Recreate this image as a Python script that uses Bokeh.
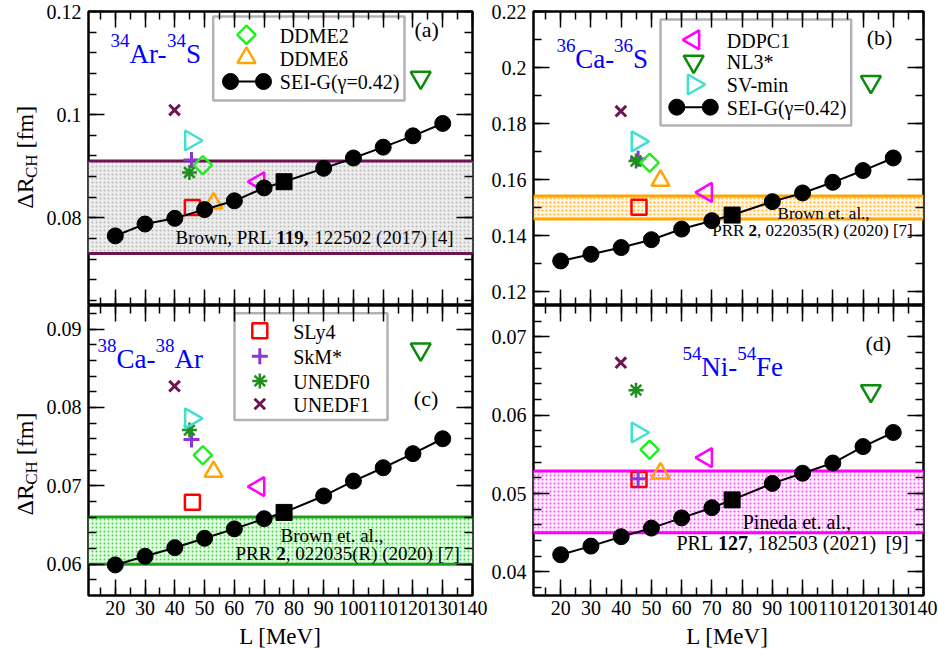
import math
import numpy as np
from bokeh.plotting import figure
from bokeh.models import (Range1d, LinearAxis, SingleIntervalTicker, CustomJSTickFormatter,
                          BoxAnnotation, Span, Label)
from bokeh.layouts import row, column
from bokeh.embed import file_html
from bokeh.resources import INLINE

FONT = "Liberation Serif"

# ---------------- data ----------------
L_sei = [20, 30, 40, 50, 60, 70, 90, 100, 110, 120, 130]
sei_a = [0.0765, 0.0788, 0.0799, 0.0816, 0.0833, 0.0858, 0.0896, 0.0916, 0.0937, 0.0959, 0.0983]
sei_b = [0.1309, 0.1333, 0.1357, 0.1385, 0.1423, 0.1453, 0.1521, 0.1552, 0.1590, 0.1632, 0.1677]
sei_c = [0.0599, 0.0610, 0.0621, 0.0633, 0.0645, 0.0658, 0.0687, 0.0706, 0.0723, 0.0741, 0.0760]
sei_d = [0.0422, 0.0433, 0.0445, 0.0456, 0.0469, 0.0482, 0.0513, 0.0526, 0.0539, 0.0560, 0.0578]

L_g042 = 76.7
g042_a = 0.0870
g042_b = 0.1473
g042_c = 0.0666
g042_d = 0.0492

models = ["SLy4", "SkM*", "UNEDF0", "UNEDF1", "DDME2", "DDMEδ", "DDPC1", "NL3*", "SV-min"]
L_models = [45.9, 45.6, 44.9, 39.9, 49.4, 53.0, 68.2, 122.6, 45.4]
mod_a = [0.0820, 0.0912, 0.0888, 0.1009, 0.0902, 0.0828, 0.0870, 0.1072, 0.0950]
mod_b = [0.1501, 0.1674, 0.1666, 0.1844, 0.1660, 0.1596, 0.1554, 0.1949, 0.1736]
mod_c = [0.0679, 0.0759, 0.0771, 0.0827, 0.0739, 0.0718, 0.0699, 0.0874, 0.0786]
mod_d = [0.0518, 0.0519, 0.0632, 0.0667, 0.0556, 0.0526, 0.0546, 0.0631, 0.0578]

band_a = [0.0731, 0.0910]
band_b = [0.1459, 0.1541]
band_c = [0.0600, 0.0660]
band_d = [0.0450, 0.0529]

sei_label = "SEI-G(γ=0.42)"
x_label = "L [MeV]"

X0, X1 = 11.0, 140.0

STY = {
    "SLy4":   dict(marker="square", color="#FF0000", size=15, angle=0.0, lw=2.5),
    "SkM*":   dict(marker="cross", color="#8E35D9", size=16, angle=0.0, lw=3),
    "UNEDF0": dict(marker="asterisk", color="#1F8F1F", size=15, angle=0.0, lw=2.5),
    "UNEDF1": dict(marker="x", color="#6E1450", size=15, angle=0.0, lw=3),
    "DDME2":  dict(marker="square", color="#22EE22", size=13, angle=math.pi / 4, lw=2.5),
    "DDMEδ":  dict(marker="triangle", color="#FFA500", size=18, angle=0.0, lw=2.5),
    "DDPC1":  dict(marker="triangle", color="#FF00FF", size=19, angle=math.pi / 2, lw=2.5),
    "NL3*":   dict(marker="inverted_triangle", color="#0C8C0C", size=20, angle=0.0, lw=2.5),
    "SV-min": dict(marker="triangle", color="#40E0D0", size=20, angle=-math.pi / 2, lw=2.5),
}

W = {' ': 250, '!': 333, '(': 333, ')': 333, ',': 250, '-': 333, '.': 250, '*': 500, '=': 564,
     '[': 333, ']': 333, 'A': 722, 'B': 667, 'C': 667, 'D': 722, 'E': 611, 'F': 556, 'G': 722,
     'H': 722, 'I': 333, 'L': 611, 'M': 889, 'N': 722, 'P': 556, 'R': 667, 'S': 556, 'V': 722,
     'a': 444, 'b': 500, 'd': 500, 'e': 444, 'f': 333, 'i': 278, 'l': 278, 'm': 778, 'n': 500,
     'o': 500, 'r': 333, 't': 278, 'w': 722, 'Δ': 612, 'γ': 500, 'δ': 500}

K_BASE = 0.3   # empirical baseline correction (fraction of font size)


def tw(s, size):
    return sum(W.get(c, 500) for c in s) / 1000.0 * size


class Pan:
    """Maps page pixels to data coordinates of one figure."""
    def __init__(self, p, xr, yr, frame):
        self.p = p
        self.x0, self.x1 = xr
        self.y0, self.y1 = yr
        self.frame = frame

    def rx(self, xpx):
        L, T, R, B = self.frame
        return self.x0 + (xpx - L) / (R - L) * (self.x1 - self.x0)

    def ry(self, ypx):
        L, T, R, B = self.frame
        return self.y1 - (ypx - T) / (B - T) * (self.y1 - self.y0)


def text(pan, xpx, ypx, s, size, color="black", bold=False, align="left", angle=0.0):
    if angle == 0.0:
        ypx = ypx - K_BASE * size
    else:
        xpx = xpx - K_BASE * size
    pan.p.add_layout(Label(x=pan.rx(xpx), y=pan.ry(ypx), text=s, text_font=FONT,
                           text_font_size=f"{size}px", text_color=color,
                           text_font_style="bold" if bold else "normal",
                           text_align=align, text_baseline="alphabetic", angle=angle))


def rich(pan, xpx, ypx, pieces, size):
    for s, b in pieces:
        lead = len(s) - len(s.lstrip(" "))
        text(pan, xpx + tw(" " * lead, size), ypx, s.strip(" "), size, bold=b)
        xpx += tw(s, size)


def style_axis(ax, labels, standoff):
    ax.axis_line_color = None
    ax.major_tick_in = 16
    ax.major_tick_out = 0
    ax.minor_tick_in = 8
    ax.minor_tick_out = 0
    ax.major_tick_line_width = 1.5
    ax.minor_tick_line_width = 1.5
    ax.major_tick_line_color = "black"
    ax.minor_tick_line_color = "black"
    if labels:
        ax.major_label_text_font = FONT
        ax.major_label_text_font_size = "20px"
        ax.major_label_text_color = "black"
        ax.major_label_standoff = standoff
    else:
        ax.major_label_text_color = None
        ax.major_label_standoff = 0


def make_fig(w, h, yr, bl, br, bt, bb, yint, ynm, xlabels):
    p = figure(width=w, height=h, x_range=Range1d(X0, X1), y_range=Range1d(*yr),
               output_backend="svg", toolbar_location=None,
               x_axis_location=None, y_axis_location=None,
               min_border_left=bl, min_border_right=br, min_border_top=bt, min_border_bottom=bb,
               background_fill_color="white", border_fill_color="white",
               outline_line_color="black", outline_line_width=2.5)
    p.grid.visible = False
    for loc in ("below", "above"):
        ax = LinearAxis(ticker=SingleIntervalTicker(interval=10, num_minor_ticks=2))
        style_axis(ax, loc == "below" and xlabels, 5)
        p.add_layout(ax, loc)
    for loc in ("left", "right"):
        ax = LinearAxis(ticker=SingleIntervalTicker(interval=yint, num_minor_ticks=ynm),
                        formatter=CustomJSTickFormatter(code="return String(parseFloat(tick.toFixed(4)));"))
        style_axis(ax, loc == "left", 7)
        p.add_layout(ax, loc)
    return p


def make_strip(w, h):
    p = figure(width=w, height=h, x_range=Range1d(0, w), y_range=Range1d(0, h),
               output_backend="svg", toolbar_location=None,
               x_axis_location=None, y_axis_location=None, min_border=0,
               outline_line_color=None, background_fill_color="white", border_fill_color="white")
    p.grid.visible = False
    return p


def draw_band(pan, band, lc, fc, hc):
    p = pan.p
    p.add_layout(BoxAnnotation(bottom=band[0], top=band[1], fill_color=fc, fill_alpha=1.0,
                               hatch_pattern="dot", hatch_color=hc, hatch_scale=4,
                               line_color=None, level="underlay"))
    for v in band:
        p.add_layout(Span(location=v, dimension="width", line_color=lc, line_width=3, level="underlay"))


def draw_model(p, name, x, y):
    s = STY[name]
    p.scatter(x=x, y=y, marker=s["marker"], size=s["size"], angle=s["angle"],
              line_color=s["color"], fill_color=None, line_width=s["lw"])


def draw_data(pan, vals, sei, g):
    p = pan.p
    for i, name in enumerate(models):
        draw_model(p, name, [L_models[i]], [vals[i]])
    xs = np.array(L_sei + [L_g042])
    ys = np.array(sei + [g])
    o = np.argsort(xs)
    p.line(x=xs[o], y=ys[o], line_color="black", line_width=2)
    p.scatter(x=L_sei, y=sei, marker="circle", size=16, fill_color="black", line_color="black")
    p.scatter(x=[L_g042], y=[g], marker="square", size=16, fill_color="black", line_color="black")


def draw_legend(pan, box, entries, mx, tx, lx0, lx1):
    p = pan.p
    L, T, R, B = box
    p.add_layout(BoxAnnotation(left=pan.rx(L), right=pan.rx(R), top=pan.ry(T), bottom=pan.ry(B),
                               fill_color="white", fill_alpha=1.0, line_color="black",
                               line_width=2.5, level="underlay"))
    for name, ypx in entries:
        yy = pan.ry(ypx)
        if name == "SEI":
            p.line(x=[pan.rx(lx0), pan.rx(lx1)], y=[yy, yy], line_color="black", line_width=2)
            p.scatter(x=[pan.rx(lx0), pan.rx(lx1)], y=[yy, yy], marker="circle", size=16,
                      fill_color="black", line_color="black")
            lab = sei_label
        else:
            draw_model(p, name, [pan.rx(mx)], [yy])
            lab = name
        text(pan, tx, ypx + 6.8, lab, 20)


def nuclide(pan, xpx, ypx, pieces):
    for s, sup in pieces:
        size = 19 if sup else 27
        text(pan, xpx, ypx - 15.7 if sup else ypx, s, size, color="#0000FF")
        xpx += tw(s, size)


# ---------------- layout geometry (page pixels) ----------------
ya = (0.063, 0.12001)
yb = (0.115, 0.22001)
yc = (0.056, 0.093)
yd = (0.037, 0.074)

STRIP_W = 42
TOP_H = 305
BOT_H = 317
XSTRIP_H = 26
FULL_W = STRIP_W + 446 + 449
BOT_FRAME_B = TOP_H + BOT_H - 27

fa = make_fig(446, TOP_H, ya, 46, 16, 11, 0, 0.02, 5, False)
fb = make_fig(449, TOP_H, yb, 43, 14, 11, 0, 0.02, 2, False)
fc = make_fig(446, BOT_H, yc, 46, 16, 0, 27, 0.01, 5, True)
fd = make_fig(449, BOT_H, yd, 43, 14, 0, 27, 0.01, 5, True)

pa = Pan(fa, (X0, X1), ya, (88, 11, 472, 305))
pb = Pan(fb, (X0, X1), yb, (531, 11, 923, 305))
pc = Pan(fc, (X0, X1), yc, (88, 305, 472, BOT_FRAME_B))
pd = Pan(fd, (X0, X1), yd, (531, 305, 923, BOT_FRAME_B))

ystrip = make_strip(STRIP_W, TOP_H + BOT_H)
xstrip = make_strip(FULL_W, XSTRIP_H)
py = Pan(ystrip, (0, STRIP_W), (0, TOP_H + BOT_H), (0, 0, STRIP_W, TOP_H + BOT_H))
px = Pan(xstrip, (0, FULL_W), (0, XSTRIP_H), (0, TOP_H + BOT_H, FULL_W, TOP_H + BOT_H + XSTRIP_H))

# bands
draw_band(pa, band_a, "#6E1450", "#EDEDED", "#B8B8B8")
draw_band(pb, band_b, "#FFA500", "#FFF4E2", "#FFB733")
draw_band(pc, band_c, "#1E9E1E", "#E6FAE6", "#33DD33")
draw_band(pd, band_d, "#FF00FF", "#FFEFFF", "#FF44FF")

# legends
draw_legend(pa, (212.7, 16, 404, 100), [("DDME2", 34.3), ("DDMEδ", 57.3), ("SEI", 81)],
            246, 279.3, 230, 263)
draw_legend(pb, (658.7, 19, 850.3, 125),
            [("DDPC1", 39.3), ("NL3*", 61), ("SV-min", 84), ("SEI", 106.7)],
            692, 725.3, 675, 708.7)
draw_legend(pc, (234, 312.7, 387, 419.5),
            [("SLy4", 330.2), ("SkM*", 355.7), ("UNEDF0", 380.4), ("UNEDF1", 403.5)],
            259.3, 292.7, 0, 0)

# data
draw_data(pa, mod_a, sei_a, g042_a)
draw_data(pb, mod_b, sei_b, g042_b)
draw_data(pc, mod_c, sei_c, g042_c)
draw_data(pd, mod_d, sei_d, g042_d)

# nuclide labels
nuclide(pa, 110, 61.7, [("34", True), ("Ar-", False), ("34", True), ("S", False)])
nuclide(pb, 554, 66.7, [("36", True), ("Ca-", False), ("36", True), ("S", False)])
nuclide(pc, 97, 366.3, [("38", True), ("Ca-", False), ("38", True), ("Ar", False)])
nuclide(pd, 680.7, 374.3, [("54", True), ("Ni-", False), ("54", True), ("Fe", False)])

# panel letters
text(pa, 414, 36, "(a)", 22)
text(pb, 866, 43.5, "(b)", 22)
text(pc, 413.3, 404.2, "(c)", 22)
text(pd, 864.7, 349.6, "(d)", 22)

# citations
rich(pa, 175, 242.5, [("Brown, PRL ", False), ("119,", True), (" 122502 (2017) [4]", False)], 19)
rich(pb, 776.3, 218.5, [("Brown et. al.,", False)], 17)
rich(pb, 710.7, 235.2, [("PRR ", False), ("2", True), (", 022035(R) (2020) [7]", False)], 17)
rich(pc, 280, 540.5, [("Brown et. al.,", False)], 19)
rich(pc, 235, 558.8, [("PRR ", False), ("2", True), (", 022035(R) (2020) [7]", False)], 19)
rich(pd, 741.3, 527.5, [("Pineda et. al.,", False)], 20)
rich(pd, 674.7, 548.5, [("PRL ", False), ("127", True), (", 182503 (2021)", False), ("  [9]", False)], 20)

# y-axis titles (rotated, read bottom to top)
for ybot in (208.3, 515.0):
    a = math.pi / 2
    xb = 32
    y = ybot
    text(py, xb, y, "ΔR", 24, angle=a)
    y -= tw("ΔR", 24)
    text(py, xb + 4, y, "CH", 17, angle=a)
    y -= tw("CH", 17)
    text(py, xb, y - tw(" ", 24), "[fm]", 24, angle=a)

# x-axis titles
for xc in (280, 727):
    text(px, xc, 642.5, x_label, 23, align="center")

layout = column(row(ystrip, column(row(fa, fb), row(fc, fd))), xstrip)
open("out.html", "w").write(file_html(layout, INLINE))
